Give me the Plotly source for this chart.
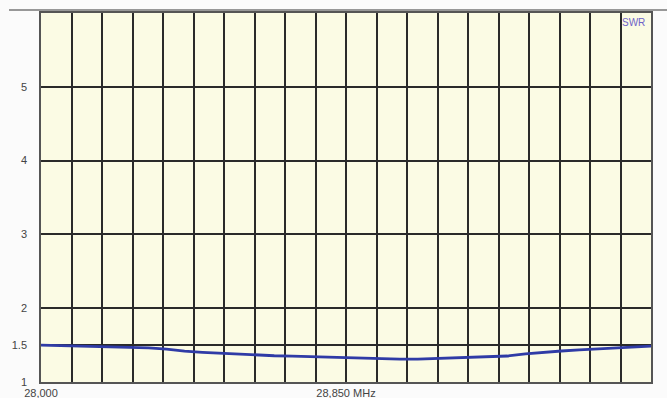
import plotly.graph_objects as go

freq_mhz = [28.00, 28.05, 28.10, 28.15, 28.20, 28.25, 28.30, 28.35, 28.40, 28.45,
            28.50, 28.55, 28.60, 28.65, 28.70, 28.75, 28.80, 28.85, 28.90, 28.95,
            29.00, 29.05, 29.10, 29.15, 29.20, 29.25, 29.30, 29.35, 29.40, 29.45,
            29.50, 29.55, 29.60, 29.65, 29.70]
swr = [1.500, 1.495, 1.488, 1.480, 1.476, 1.472, 1.462, 1.445, 1.418, 1.402,
       1.390, 1.375, 1.362, 1.356, 1.350, 1.343, 1.335, 1.325, 1.315, 1.312,
       1.311, 1.311, 1.318, 1.330, 1.340, 1.345, 1.352, 1.380, 1.405, 1.420,
       1.434, 1.447, 1.460, 1.474, 1.487]

x_start, x_end, x_div = 28.0, 29.7, 20
x_tickvals = [x_start + i * (x_end - x_start) / x_div for i in range(x_div + 1)]
x_labels = {0: "28,000", 10: "28,850 MHz", 20: "29,700"}
x_ticktext = [x_labels.get(i, "") for i in range(x_div + 1)]

y_tickvals = [1, 1.5, 2, 3, 4, 5, 6]
y_ticktext = ["1", "1.5", "2", "3", "4", "5", ""]

fig = go.Figure()
fig.add_trace(go.Scatter(x=freq_mhz, y=swr, mode="lines",
                         line=dict(color="#2F3BA6", width=2.8),
                         hoverinfo="x+y", showlegend=False))

font = dict(family="Liberation Sans, Arial, sans-serif", size=11, color="#444444")

fig.update_layout(
    width=667, height=398,
    margin=dict(l=41, r=16, t=13, b=16, autoexpand=False),
    paper_bgcolor="#FBFBFB",
    plot_bgcolor="#FBFBE4",
    font=font,
    xaxis=dict(range=[x_start, x_end], tickvals=x_tickvals, ticktext=x_ticktext,
               showgrid=True, gridcolor="#2A2A2A", gridwidth=1.5,
               showline=True, linecolor="#555555", linewidth=1.5, mirror=True,
               zeroline=False, ticks="", ticklabelstandoff=0, tickfont=font,
               automargin=False),
    yaxis=dict(range=[1, 6], tickvals=y_tickvals, ticktext=y_ticktext,
               showgrid=True, gridcolor="#2A2A2A", gridwidth=1.5,
               showline=True, linecolor="#555555", linewidth=1.5, mirror=True,
               zeroline=False, ticks="", ticklabelstandoff=10, tickfont=font,
               automargin=False),
    shapes=[dict(type="line", xref="paper", yref="paper",
                 x0=-0.0525, x1=1.03, y0=1.008, y1=1.008,
                 line=dict(color="#777777", width=1.5))],
    annotations=[dict(text="SWR", xref="paper", yref="paper", x=0.993, y=0.995,
                      xanchor="right", yanchor="top", showarrow=False,
                      font=dict(family="Liberation Sans, Arial, sans-serif",
                                size=10, color="#6F63C8"))],
)

fig.write_html("out.html", config={"displayModeBar": False},
               post_script="document.body.style.margin='0';")
